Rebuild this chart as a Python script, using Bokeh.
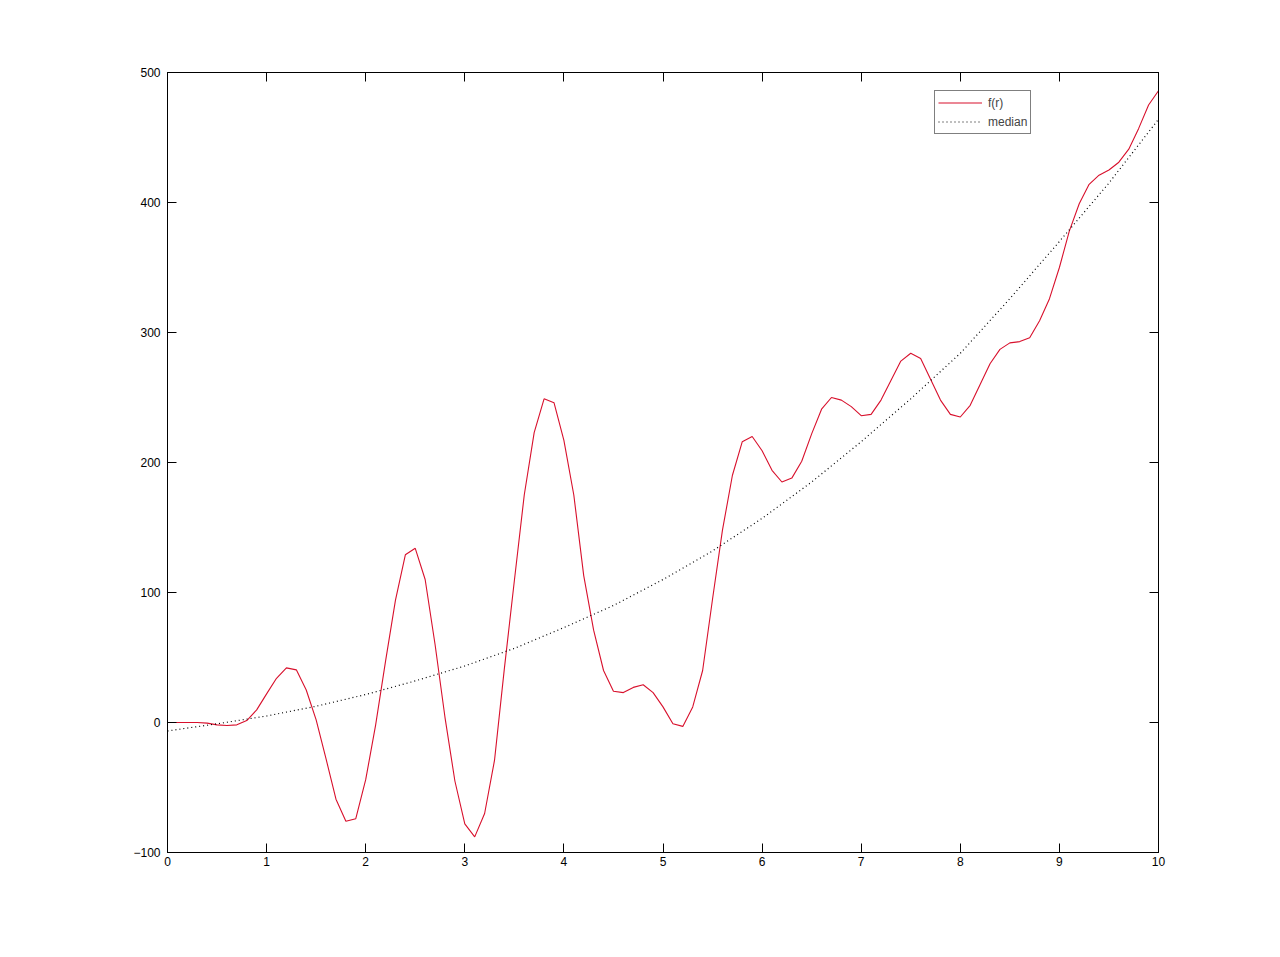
from bokeh.plotting import figure
from bokeh.models import Range1d, LinearAxis, FixedTicker, Legend, LegendItem, CustomJSTickFormatter
from bokeh.embed import file_html
from bokeh.resources import INLINE

# ---- data ----
r_values = [round(0.1 * k, 1) for k in range(101)]
f_values = [
    0, 0, 0, 0, -0.5, -1.8, -2.3, -1.8, 1.5, 9.7,
    22, 34, 42, 40.5, 25, 2, -28, -59, -76, -74,
    -44, -2, 47, 94, 129, 134, 110, 60, 4, -45,
    -78, -88, -70, -29, 42, 109, 175, 223, 249, 246,
    217, 175, 113, 71, 40, 24, 23, 27, 29, 23,
    12, -1, -3, 12, 40, 95, 148, 190, 216, 220,
    209, 194, 185, 188, 201, 222, 241, 250, 248, 243,
    236, 237, 248, 263, 278, 284, 280, 264, 248, 237,
    235, 244, 260, 276, 287, 292, 293, 296, 309, 326,
    350, 378, 399, 414, 421, 425, 431, 441, 457, 475,
    486,
]
median_x = [0, 0.5, 1, 1.5, 2, 2.5, 3, 3.5, 4, 4.5, 5, 5.5, 6, 6.5, 7, 7.5, 8, 8.5, 9, 9.5, 10]
median_y = [-6.5, -1, 5, 12.5, 21.5, 32, 43.5, 57, 73, 90, 110, 132, 157, 185, 216, 249, 284, 326, 370, 415, 464]
x_ticks = [0, 1, 2, 3, 4, 5, 6, 7, 8, 9, 10]
y_ticks = [-100, 0, 100, 200, 300, 400, 500]
labels = ["f(r)", "median"]

FONT = "Liberation Sans"

p = figure(
    width=1264, height=941,
    x_range=Range1d(0, 10), y_range=Range1d(-100, 500),
    output_backend="svg", toolbar_location=None,
    min_border_left=167, min_border_right=106,
    min_border_top=72, min_border_bottom=89,
    background_fill_color="white", border_fill_color="white",
)
p.outline_line_color = "black"
p.outline_line_width = 1
p.grid.visible = False

def style_axis(ax):
    ax.axis_line_color = "black"
    ax.major_tick_line_color = "black"
    ax.major_tick_in = 9
    ax.major_tick_out = 0
    ax.minor_tick_line_color = None
    ax.major_label_text_font = FONT
    ax.major_label_text_color = "black"
    ax.major_label_text_font_size = "12px"

p.xaxis.ticker = FixedTicker(ticks=x_ticks)
p.yaxis.ticker = FixedTicker(ticks=y_ticks)
style_axis(p.xaxis[0])
style_axis(p.yaxis[0])
p.xaxis.major_label_standoff = 4
p.yaxis.major_label_standoff = 7

blank = CustomJSTickFormatter(code="return ''")
top_ax = LinearAxis(ticker=FixedTicker(ticks=x_ticks), formatter=blank)
right_ax = LinearAxis(ticker=FixedTicker(ticks=y_ticks), formatter=blank)
style_axis(top_ax)
style_axis(right_ax)
top_ax.major_label_standoff = 0
right_ax.major_label_standoff = 0
p.add_layout(top_ax, "above")
p.add_layout(right_ax, "right")

r1 = p.line(r_values, f_values, line_color="#d8102c", line_width=1.1)
r2 = p.line(median_x, median_y, line_color="black", line_width=1.2, line_dash="1 3")

legend = Legend(
    items=[LegendItem(label=labels[0], renderers=[r1]),
           LegendItem(label=labels[1], renderers=[r2])],
    location=(767, 718),
    margin=0, padding=3, spacing=2,
    glyph_width=44, glyph_height=17, label_height=17,
    label_standoff=6,
    label_text_font=FONT, label_text_font_size="12px",
    border_line_color="black", border_line_width=1,
    background_fill_color="white", background_fill_alpha=1,
)
p.add_layout(legend, "center")

open("out.html", "w").write(file_html(p, INLINE))
